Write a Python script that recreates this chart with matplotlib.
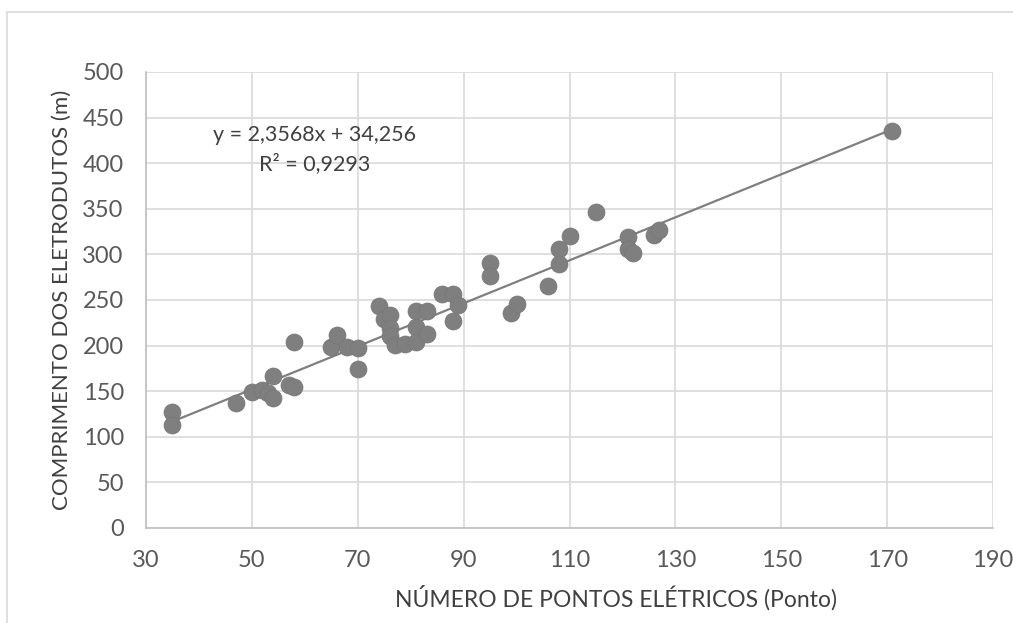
import matplotlib.pyplot as plt
from matplotlib.patches import Rectangle

plt.rcParams['font.family'] = ['Lato', 'DejaVu Sans']

# pontos elétricos x comprimento dos eletrodutos (m)
pontos = [35, 35, 47, 50, 52, 53, 54, 54, 57, 58, 58, 65, 66, 68, 70, 70,
          74, 75, 76, 76, 76, 77, 79, 81, 81, 81, 83, 83, 86, 88, 89, 88,
          95, 95, 99, 100, 106, 108, 108, 110, 115, 121, 121, 122, 126, 127, 171]
comprimento = [127, 113, 137, 149, 151, 148, 167, 143, 157, 155, 204, 198, 212, 198, 197, 174,
               243, 229, 234, 219, 210, 201, 202, 238, 220, 204, 238, 213, 257, 257, 244, 227,
               291, 276, 236, 246, 265, 306, 290, 320, 346, 319, 306, 302, 321, 327, 435]

# linha de tendência linear
a, b = 2.3568, 34.256
r2 = 0.9293

xticks = [30, 50, 70, 90, 110, 130, 150, 170, 190]
yticks = [0, 50, 100, 150, 200, 250, 300, 350, 400, 450, 500]

W, H = 1013, 623
fig = plt.figure(figsize=(W / 100, H / 100), dpi=100)
ax = fig.add_axes([146 / W, 1 - 528 / H, (993 - 146) / W, (528 - 72) / H])

# moldura do gráfico
fig.patches.append(Rectangle((7 / W, -0.1), 1.2, 1 - 12 / H + 0.1, transform=fig.transFigure,
                             fill=False, edgecolor='#d9d9d9', linewidth=1.2))

ax.grid(True, color='#d9d9d9', linewidth=1.2)
ax.set_axisbelow(True)
ax.set_xlim(30, 190)
ax.set_ylim(0, 500)
ax.set_xticks(xticks)
ax.set_yticks(yticks)
for s in ['top', 'right']:
    ax.spines[s].set_visible(False)
for s in ['left', 'bottom']:
    ax.spines[s].set_color('#bfbfbf')
    ax.spines[s].set_linewidth(1.2)
ax.tick_params(length=0, labelsize=17, colors='#595959')
ax.tick_params(axis='y', pad=16)
ax.tick_params(axis='x', pad=16)

ax.scatter(pontos, comprimento, s=150, color='#7f7f7f', edgecolors='#777777',
           linewidths=0.5, zorder=3)
xl = [min(pontos), max(pontos)]
ax.plot(xl, [a * x + b for x in xl], color='#7f7f7f', linewidth=1.6, zorder=2)

eq = f'y = {a:.4f}x + {b:.3f}'.replace('.', ',')
ax.text(61.9, 431, eq, ha='center', va='center', fontsize=15.5, color='#404040')
ax.text(61.9, 399, f'R² = {r2:.4f}'.replace('.', ','), ha='center', va='center',
        fontsize=15.5, color='#404040')

# títulos dos eixos
fig.text(62 / W, 1 - 300 / H, 'COMPRIMENTO DOS ELETRODUTOS (m)', rotation=90,
         ha='center', va='center', fontsize=16, color='#404040')
fig.text(616 / W, 1 - 598 / H, 'NÚMERO DE PONTOS ELÉTRICOS (Ponto)', ha='center',
         va='center', fontsize=16.5, color='#404040')

fig.savefig('out.png', dpi=100)
